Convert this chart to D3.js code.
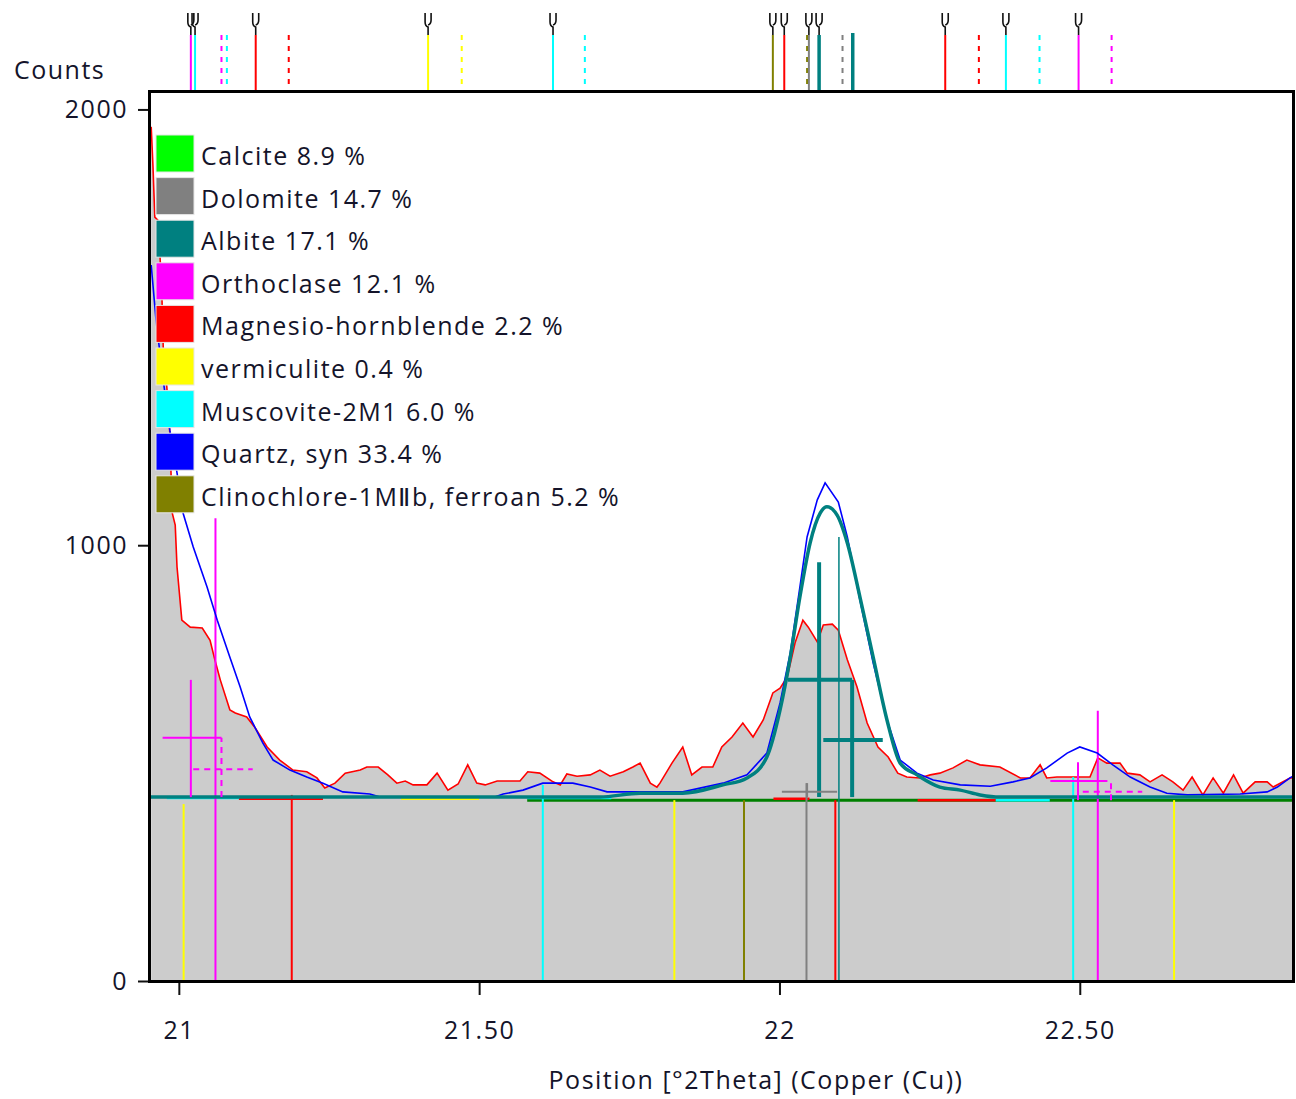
<!DOCTYPE html>
<html>
<head>
<meta charset="utf-8">
<script src="https://cdn.jsdelivr.net/npm/d3@7"></script>
<style>
  body { margin: 0; background: #fff; }
  text { font-family: "Open Sans", "Noto Sans", sans-serif; fill: #14142a; letter-spacing: 1.5px; }
</style>
</head>
<body>
<svg id="chart" width="1296" height="1099"></svg>
<script>
// phases (legend order)
const phaseKeys = ["cal", "dol", "alb", "ort", "hbl", "ver", "mus", "qtz", "cln"];
const phaseNames = ["Calcite", "Dolomite", "Albite", "Orthoclase", "Magnesio-hornblende",
  "vermiculite", "Muscovite-2M1", "Quartz, syn", "Clinochlore-1M\u2161b, ferroan"];
const phaseAmounts = [8.9, 14.7, 17.1, 12.1, 2.2, 0.4, 6.0, 33.4, 5.2];

// observed scan [2theta, counts]
const observed = [[20.954,1960],[20.957,1868],[20.960,1753],[20.965,1746],[20.969,1654],[20.972,1563],[20.974,1455],[20.980,1363],[20.985,1257],[20.989,1074],[20.994,1046],[20.997,950],[21.005,828],[21.019,812],[21.039,810],[21.052,782],[21.060,737],[21.069,691],[21.085,622],[21.094,615],[21.113,606],[21.127,581],[21.147,537],[21.168,507],[21.190,484],[21.213,480],[21.230,466],[21.243,443],[21.260,454],[21.277,477],[21.302,484],[21.313,491],[21.332,491],[21.348,473],[21.363,454],[21.377,459],[21.390,450],[21.413,450],[21.430,477],[21.448,438],[21.465,452],[21.481,496],[21.496,454],[21.510,450],[21.530,459],[21.568,459],[21.581,480],[21.601,477],[21.623,457],[21.635,450],[21.646,475],[21.663,470],[21.685,473],[21.701,484],[21.718,470],[21.740,480],[21.756,491],[21.768,500],[21.785,454],[21.796,445],[21.801,454],[21.821,500],[21.839,537],[21.854,473],[21.871,491],[21.889,491],[21.904,537],[21.921,560],[21.939,592],[21.956,560],[21.973,599],[21.989,661],[22.001,672],[22.013,698],[22.026,776],[22.039,828],[22.048,812],[22.063,778],[22.073,817],[22.088,819],[22.098,805],[22.113,737],[22.129,675],[22.146,592],[22.164,537],[22.181,514],[22.197,477],[22.212,468],[22.234,466],[22.251,473],[22.267,477],[22.289,489],[22.312,507],[22.334,496],[22.367,491],[22.401,466],[22.417,466],[22.434,496],[22.445,466],[22.462,468],[22.500,468],[22.517,468],[22.530,512],[22.545,500],[22.567,500],[22.579,477],[22.600,473],[22.617,457],[22.637,473],[22.655,457],[22.672,438],[22.687,468],[22.705,427],[22.722,466],[22.739,431],[22.756,473],[22.772,431],[22.792,457],[22.812,457],[22.822,445],[22.850,466],[22.855,466]];

// calculated profiles
const quartzProfile = [[20.954,1643],[20.962,1517],[20.974,1379],[20.985,1264],[20.997,1166],[21.007,1074],[21.024,996],[21.047,904],[21.064,828],[21.085,743],[21.102,675],[21.118,606],[21.140,546],[21.157,507],[21.185,484],[21.213,468],[21.240,454],[21.273,434],[21.318,429],[21.335,422],[21.526,422],[21.540,429],[21.573,438],[21.606,454],[21.656,454],[21.685,445],[21.713,434],[21.768,434],[21.839,434],[21.906,454],[21.946,473],[21.979,523],[22.001,638],[22.018,753],[22.034,904],[22.046,1019],[22.063,1104],[22.076,1143],[22.098,1099],[22.113,1019],[22.134,874],[22.156,730],[22.179,599],[22.201,507],[22.229,477],[22.256,461],[22.301,450],[22.351,447],[22.389,457],[22.417,466],[22.445,489],[22.479,523],[22.500,537],[22.529,523],[22.555,496],[22.584,468],[22.617,445],[22.645,431],[22.679,427],[22.767,429],[22.812,434],[22.829,445],[22.850,466],[22.855,470]];
const albiteProfile = [[20.952,422],[21.701,422],[21.768,431],[21.839,431],[21.906,450],[21.946,466],[21.979,514],[22.001,622],[22.018,743],[22.034,881],[22.051,1005],[22.068,1074],[22.079,1088],[22.096,1069],[22.113,1005],[22.134,881],[22.156,743],[22.179,599],[22.201,500],[22.229,473],[22.267,445],[22.301,438],[22.334,427],[22.367,422],[22.855,422]];

// flat phase profiles near the background: phase, from, to, counts
const baseSegPhase = ["cal", "hbl", "hbl", "hbl", "ver", "mus", "mus", "mus"];
const baseSegFrom = [21.58, 21.10, 21.99, 22.23, 21.37, 20.98, 21.58, 22.36];
const baseSegTo = [22.855, 21.24, 22.05, 22.36, 21.50, 21.10, 21.72, 22.45];
const baseSegCounts = [415, 418, 418, 415, 418, 420, 420, 415];

// reference sticks from zero
const stickTheta = [21.008, 21.061, 21.188, 21.606, 21.825, 21.941, 22.045, 22.093, 22.099, 22.489, 22.530, 22.657];
const stickCounts = [406, 1062, 427, 450, 415, 415, 454, 415, 1019, 468, 620, 415];
const stickPhase = ["ver", "ort", "hbl", "mus", "ver", "cln", "dol", "hbl", "alb", "mus", "ort", "ver"];

// peak markers: position, top, bar counts, bar from, bar to, base
const crossTheta = [21.020, 21.071, 22.066, 22.121, 22.046, 22.497, 22.552];
const crossTop = [691, 558, 961, 691, 454, 502, 459];
const crossBar = [558, 486, 691, 553, 434, 459, 434];
const crossFrom = [20.973, 21.024, 22.014, 22.073, 22.004, 22.451, 22.505];
const crossTo = [21.071, 21.123, 22.121, 22.172, 22.096, 22.546, 22.604];
const crossBase = [422, 422, 422, 422, 422, 415, 415];
const crossPhase = ["ort", "ort", "alb", "alb", "dol", "ort", "ort"];
const crossKa2 = [false, true, false, false, false, false, true];

// reference lines above the plot
const refTheta = [21.020, 21.027, 21.071, 21.080, 21.128, 21.183, 21.415, 21.471, 21.623, 21.676,
  21.989, 22.008, 22.046, 22.049, 22.066, 22.105, 22.122, 22.276, 22.332, 22.377, 22.433, 22.498, 22.553];
const refPhase = ["ort", "mus", "ort", "mus", "hbl", "hbl", "ver", "ver", "mus", "mus",
  "cln", "hbl", "cln", "dol", "alb", "dol", "alb", "hbl", "hbl", "mus", "mus", "ort", "ort"];
const refKa2 = [false, false, true, true, false, true, false, true, false, true,
  false, false, true, false, false, true, false, false, true, false, true, false, true];
const refFork = [true, true, false, false, true, false, true, false, true, false,
  true, true, false, true, true, false, false, true, false, true, false, true, false];

const xTicks = [21, 21.5, 22, 22.5];
const xTickLabels = ["21", "21.50", "22", "22.50"];
const yTicks = [0, 1000, 2000];

// ---- styling
const phaseColor = {
  cal: "#00ff00", dol: "#808080", alb: "#008080", ort: "#ff00ff", hbl: "#ff0000",
  ver: "#ffff00", mus: "#00ffff", qtz: "#0000ff", cln: "#808000"
};
const calcColor = { cal: "#008000" };

const svg = d3.select("#chart");
const plotLeft = 150, plotRight = 1293, plotTop = 92, plotBottom = 981;

const x = d3.scaleLinear().domain([20.952, 22.855]).range([plotLeft, plotRight]);
const y = d3.scaleLinear().domain([0, 2040]).range([plotBottom, plotTop]);

svg.append("clipPath").attr("id", "plotClip")
  .append("rect").attr("x", plotLeft).attr("y", plotTop)
  .attr("width", plotRight - plotLeft).attr("height", plotBottom - plotTop);

const plot = svg.append("g").attr("clip-path", "url(#plotClip)");

// observed fill + line
plot.append("path")
  .datum(observed)
  .attr("d", d3.area().x(d => x(d[0])).y0(y(0)).y1(d => y(d[1])))
  .attr("fill", "#cccccc");

plot.append("path")
  .datum(observed)
  .attr("d", d3.line().x(d => x(d[0])).y(d => y(d[1])))
  .attr("fill", "none").attr("stroke", "#ff0000").attr("stroke-width", 1.6);

// flat phase profiles
baseSegPhase.forEach(function (p, i) {
  plot.append("line")
    .attr("x1", x(baseSegFrom[i])).attr("x2", x(baseSegTo[i]))
    .attr("y1", y(baseSegCounts[i])).attr("y2", y(baseSegCounts[i]))
    .attr("stroke", calcColor[p] || phaseColor[p])
    .attr("stroke-width", p == "cal" ? 3 : 2.5);
});

// sticks
stickTheta.forEach(function (t, i) {
  plot.append("line")
    .attr("x1", x(t)).attr("x2", x(t))
    .attr("y1", y(0)).attr("y2", y(stickCounts[i]))
    .attr("stroke", phaseColor[stickPhase[i]])
    .attr("stroke-width", stickPhase[i] == "alb" ? 1.5 : 2);
});

// quartz profile
plot.append("path")
  .datum(quartzProfile)
  .attr("d", d3.line().x(d => x(d[0])).y(d => y(d[1])))
  .attr("fill", "none").attr("stroke", "#0000ff").attr("stroke-width", 1.6);

// albite profile
plot.append("path")
  .datum(albiteProfile)
  .attr("d", d3.line().x(d => x(d[0])).y(d => y(d[1])).curve(d3.curveMonotoneX))
  .attr("fill", "none").attr("stroke", "#008080").attr("stroke-width", 3.5);

// peak markers
crossTheta.forEach(function (t, i) {
  const c = phaseColor[crossPhase[i]];
  const w = crossPhase[i] == "alb" ? 4 : 2;
  const dash = crossKa2[i] ? "6,5" : null;
  plot.append("line")
    .attr("x1", x(t)).attr("x2", x(t))
    .attr("y1", y(crossBase[i])).attr("y2", y(crossTop[i]))
    .attr("stroke", c).attr("stroke-width", w).attr("stroke-dasharray", dash);
  plot.append("line")
    .attr("x1", x(crossFrom[i])).attr("x2", x(crossTo[i]))
    .attr("y1", y(crossBar[i])).attr("y2", y(crossBar[i]))
    .attr("stroke", c).attr("stroke-width", w).attr("stroke-dasharray", dash);
});

// reference lines on top
const refG = svg.append("g");
refTheta.forEach(function (t, i) {
  const p = refPhase[i];
  const xp = x(t);
  refG.append("line")
    .attr("x1", xp).attr("x2", xp)
    .attr("y1", p == "alb" && !refFork[i] ? 33 : 35).attr("y2", plotTop)
    .attr("stroke", phaseColor[p])
    .attr("stroke-width", p == "alb" ? 3.5 : 2)
    .attr("stroke-dasharray", refKa2[i] ? "5,6" : null);
  if (refFork[i]) {
    refG.append("path")
      .attr("d", "M" + (xp - 3) + ",13 V22 Q" + (xp - 3) + ",26 " + xp + ",27 V35 M" + (xp + 3) + ",13 V20 Q" + (xp + 3) + ",24 " + xp + ",25")
      .attr("fill", "none").attr("stroke", "#111").attr("stroke-width", 1.6);
  }
});

// frame
svg.append("rect")
  .attr("x", plotLeft - 0.5).attr("y", plotTop - 0.5)
  .attr("width", plotRight - plotLeft + 1).attr("height", plotBottom - plotTop + 1)
  .attr("fill", "none").attr("stroke", "#000").attr("stroke-width", 3);

// axes
const yAxis = svg.append("g")
  .attr("transform", "translate(" + (plotLeft - 2) + ",0)")
  .call(d3.axisLeft(y).tickValues(yTicks).tickSize(10).tickPadding(8).tickFormat(d3.format("d")));
const xAxis = svg.append("g")
  .attr("transform", "translate(0," + (plotBottom + 2) + ")")
  .call(d3.axisBottom(x).tickValues(xTicks).tickSize(12).tickPadding(26)
    .tickFormat((d, i) => xTickLabels[i]));
[yAxis, xAxis].forEach(function (a) {
  a.select(".domain").remove();
  a.selectAll(".tick line").attr("stroke", "#111").attr("stroke-width", 2);
  a.selectAll(".tick text").attr("font-size", 25).attr("fill", "#14142a")
    .attr("font-family", "'Open Sans', 'Noto Sans', sans-serif");
});
yAxis.selectAll(".tick text").attr("dx", -2);

svg.append("text").attr("x", 14).attr("y", 79).attr("font-size", 25).text("Counts");
svg.append("text").attr("x", 756).attr("y", 1089).attr("font-size", 25)
  .attr("text-anchor", "middle").text("Position [\u00b02Theta] (Copper (Cu))");

// legend
const legend = svg.append("g");
phaseKeys.forEach(function (k, i) {
  const ty = 135 + i * 42.6;
  legend.append("rect")
    .attr("x", 156).attr("y", ty).attr("width", 38).attr("height", 37)
    .attr("fill", phaseColor[k]).attr("stroke", "#e6e6e6").attr("stroke-width", 1);
  legend.append("text")
    .attr("x", 201).attr("y", ty + 30).attr("font-size", 25)
    .text(phaseNames[i] + " " + phaseAmounts[i].toFixed(1) + " %");
});
</script>
</body>
</html>
